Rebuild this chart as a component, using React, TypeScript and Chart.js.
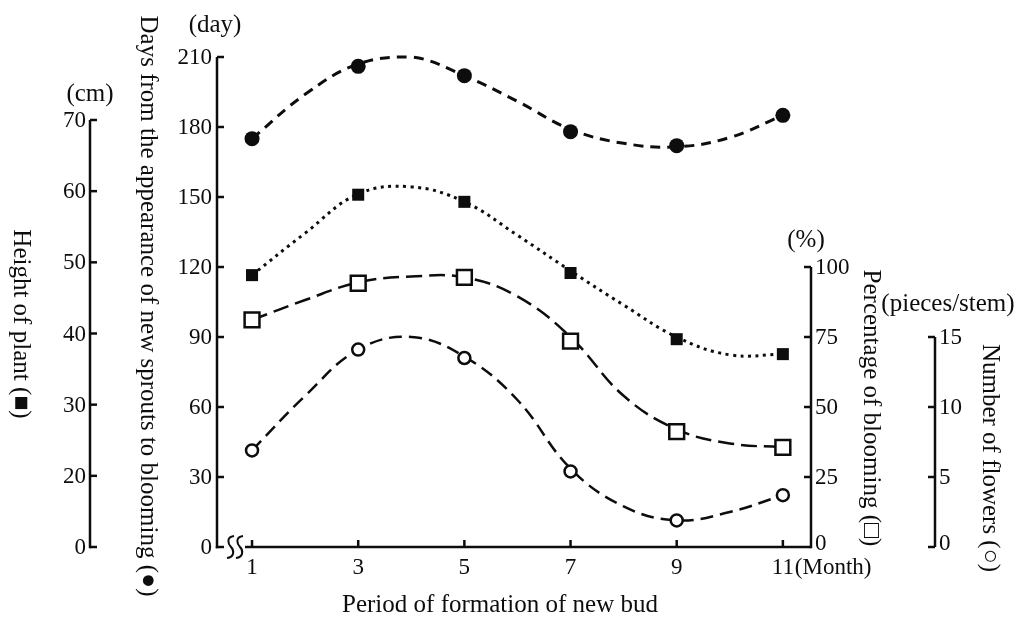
import React, { useEffect, useRef } from "react";
import { Chart, registerables } from "chart.js";

Chart.register(...registerables);

// ---------- data ----------
const pointMonths = [1, 3, 5, 7, 9, 11];
const curveMonths = [1, 2, 3, 4, 5, 6, 7, 8, 9, 10, 11];

const daysToBlooming = [175, 206, 202, 178, 172, 185];
const daysCurve = [175, 194, 207, 210, 202, 191, 179, 173, 171.5, 175.5, 185];

const plantHeight = [48.2, 59.5, 58.5, 48.5, 39.2, 37.1];
const plantHeightCurve = [48.2, 54.1, 59.6, 60.6, 58.5, 53.8, 48.8, 44, 39.5, 37, 37.1];

const bloomingPct = [81.1, 94.2, 96.3, 73.5, 41.2, 35.6];
const bloomingPctCurve = [81.1, 88.2, 94.5, 96.6, 96.3, 89.5, 75, 54, 42, 37, 35.6];

const flowerCount = [6.9, 14.1, 13.5, 5.4, 1.9, 3.7];
const flowerCountCurve = [6.9, 10.8, 14.1, 15.0, 13.6, 10.5, 5.6, 2.9, 1.9, 2.5, 3.7];

const monthTicks = [1, 3, 5, 7, 9, 11];
const dayTicks = [0, 30, 60, 90, 120, 150, 180, 210];
const heightTickValues = [10, 20, 30, 40, 50, 60, 70];
const heightTickLabels = ["0", "20", "30", "40", "50", "60", "70"];
const pctTicks = [0, 25, 50, 75, 100];
const flowerTicks = [0, 5, 10, 15];

const xTitle = "Period of formation of new bud";
const monthUnit = "(Month)";
const dayTitle = "Days from the appearance of new sprouts to blooming (\u25CF)";
const dayUnit = "(day)";
const heightTitle = "Height of plant (\u25A0)";
const heightUnit = "(cm)";
const pctTitle = "Percentage of blooming (\u25A1)";
const pctUnit = "(%)";
const flowerTitle = "Number of flowers (\u25CB)";
const flowerUnit = "(pieces/stem)";

const INK = "#0d0d0d";
const TICK_FONT = '23px "Liberation Serif", "Times New Roman", serif';
const TITLE_FONT = '25px "Liberation Serif", "Times New Roman", serif';

const pts = (xs: number[], ys: number[]) => xs.map((x, i) => ({ x, y: ys[i] }));

const axesPlugin = {
  id: "customAxes",
  afterDraw(chart: any) {
    const ctx: CanvasRenderingContext2D = chart.ctx;
    const { x, yDay, yHeight, yPct, yNum } = chart.scales;
    const area = chart.chartArea;
    const bottom = area.bottom;
    ctx.save();
    ctx.strokeStyle = INK;
    ctx.fillStyle = INK;
    ctx.lineWidth = 2.5;
    ctx.lineCap = "butt";

    const line = (x1: number, y1: number, x2: number, y2: number) => {
      ctx.beginPath();
      ctx.moveTo(x1, y1);
      ctx.lineTo(x2, y2);
      ctx.stroke();
    };
    const vText = (t: string, cx: number, cy: number) => {
      ctx.save();
      ctx.translate(cx, cy);
      ctx.rotate(Math.PI / 2);
      ctx.textAlign = "center";
      ctx.textBaseline = "middle";
      ctx.font = TITLE_FONT;
      ctx.fillText(t, 0, 0);
      ctx.restore();
    };

    // ---- Height axis (outer left) ----
    const hx = 90;
    line(hx, yHeight.getPixelForValue(10) + 1.2, hx, yHeight.getPixelForValue(70));
    ctx.font = TICK_FONT;
    ctx.textAlign = "right";
    ctx.textBaseline = "middle";
    heightTickValues.forEach((v, i) => {
      const py = yHeight.getPixelForValue(v);
      line(hx, py, hx + 7, py);
      ctx.fillText(heightTickLabels[i], hx - 4, py + 1);
    });
    ctx.textAlign = "center";
    ctx.font = TITLE_FONT;
    ctx.fillText(heightUnit, 90, 94);
    vText(heightTitle, 21, 324);

    // ---- Day axis ----
    const dx = area.left;
    line(dx, bottom + 1.2, dx, yDay.getPixelForValue(210));
    ctx.font = TICK_FONT;
    ctx.textAlign = "right";
    dayTicks.forEach((v) => {
      const py = yDay.getPixelForValue(v);
      if (v !== 0) line(dx, py, dx + 7, py);
      ctx.fillText(String(v), dx - 5, py + 1);
    });
    ctx.textAlign = "center";
    ctx.font = TITLE_FONT;
    ctx.fillText(dayUnit, 215, 25);
    vText(dayTitle, 148, 306);

    // ---- X axis with break ----
    line(dx - 1.2, bottom, dx + 7, bottom);
    const squiggle = (x0: number) => {
      ctx.beginPath();
      ctx.lineWidth = 2;
      ctx.moveTo(x0 + 4, 536);
      ctx.bezierCurveTo(x0 - 4, 537, x0 - 2, 544, x0 + 1, 547);
      ctx.bezierCurveTo(x0 + 4, 550, x0 + 5, 557, x0 - 3, 558);
      ctx.stroke();
      ctx.lineWidth = 2.5;
    };
    squiggle(230);
    squiggle(239);
    line(245, bottom, area.right, bottom);
    ctx.font = TICK_FONT;
    ctx.textAlign = "center";
    ctx.textBaseline = "middle";
    monthTicks.forEach((m) => {
      const px = x.getPixelForValue(m);
      line(px, bottom, px, bottom - 7);
      ctx.fillText(String(m), px, bottom + 21);
    });
    ctx.textAlign = "left";
    ctx.fillText(monthUnit, x.getPixelForValue(11) + 12, bottom + 21);
    ctx.textAlign = "center";
    ctx.font = TITLE_FONT;
    ctx.fillText(xTitle, 500, 605);

    // ---- Percentage axis (right) ----
    const px0 = area.right;
    line(px0, bottom + 1.2, px0, yPct.getPixelForValue(100));
    ctx.font = TICK_FONT;
    ctx.textAlign = "left";
    pctTicks.forEach((v) => {
      const py = yPct.getPixelForValue(v);
      if (v !== 0) line(px0, py, px0 - 7, py);
      ctx.fillText(String(v), px0 + 4, py + (v === 0 ? -3 : 1));
    });
    ctx.textAlign = "center";
    ctx.font = TITLE_FONT;
    ctx.fillText(pctUnit, 806, 240);
    vText(pctTitle, 871, 408);

    // ---- Number of flowers axis (outer right) ----
    const nx = 935;
    line(nx, bottom, nx, yNum.getPixelForValue(15));
    ctx.font = TICK_FONT;
    ctx.textAlign = "left";
    flowerTicks.forEach((v) => {
      const py = yNum.getPixelForValue(v);
      line(nx, py, nx - 7, py);
      ctx.fillText(String(v), nx + 4, py + (v === 0 ? -3 : 1));
    });
    ctx.textAlign = "center";
    ctx.font = TITLE_FONT;
    ctx.fillText(flowerUnit, 948, 304);
    vText(flowerTitle, 990, 458);

    ctx.restore();
  },
};

export default function App() {
  const canvasRef = useRef<HTMLCanvasElement | null>(null);

  useEffect(() => {
    document.body.style.margin = "0";
    const canvas = canvasRef.current;
    if (!canvas) return;

    const curve = (data: any, yAxisID: string, dash: number[], width: number) => ({
      data,
      yAxisID,
      borderColor: INK,
      borderWidth: width,
      borderDash: dash,
      borderCapStyle: "butt",
      pointRadius: 0,
      tension: 0.4,
      fill: false,
      order: 2,
      clip: false,
    });
    const markers = (data: any, yAxisID: string, style: string, radius: number, fillColor: string, bw: number) => ({
      data,
      yAxisID,
      showLine: false,
      pointStyle: style,
      pointRadius: radius,
      pointBackgroundColor: fillColor,
      pointBorderColor: INK,
      pointBorderWidth: bw,
      order: 1,
      clip: false,
    });

    const chart = new Chart(canvas, {
      type: "line",
      data: {
        datasets: [
          curve(pts(curveMonths, daysCurve), "yDay", [10, 7], 3),
          curve(pts(curveMonths, plantHeightCurve), "yHeight", [3, 4.5], 3),
          curve(pts(curveMonths, bloomingPctCurve), "yPct", [16, 7], 2.5),
          curve(pts(curveMonths, flowerCountCurve), "yNum", [13, 7], 2.5),
          markers(pts(pointMonths, daysToBlooming), "yDay", "circle", 7.5, INK, 0),
          markers(pts(pointMonths, plantHeight), "yHeight", "rect", 8.5, INK, 0),
          markers(pts(pointMonths, bloomingPct), "yPct", "rect", 10.5, "#ffffff", 2.5),
          markers(pts(pointMonths, flowerCount), "yNum", "circle", 6, "#ffffff", 2.5),
        ] as any,
      },
      options: {
        responsive: false,
        animation: false,
        events: [],
        layout: { padding: { left: 217, right: 209, top: 57, bottom: 71 } },
        plugins: { legend: { display: false }, tooltip: { enabled: false } },
        scales: {
          x: { type: "linear", min: 0.34, max: 11.53, display: false },
          yDay: { type: "linear", position: "left", min: 0, max: 210, display: false },
          yHeight: { type: "linear", position: "left", min: 10, max: 78.85, display: false },
          yPct: { type: "linear", position: "right", min: 0, max: 175, display: false },
          yNum: { type: "linear", position: "right", min: 0, max: 35, display: false },
        },
      } as any,
      plugins: [axesPlugin],
    });
    return () => chart.destroy();
  }, []);

  return (
    <div style={{ width: 1020, height: 618, background: "#ffffff" }}>
      <canvas ref={canvasRef} width={1020} height={618} style={{ display: "block" }} />
    </div>
  );
}
